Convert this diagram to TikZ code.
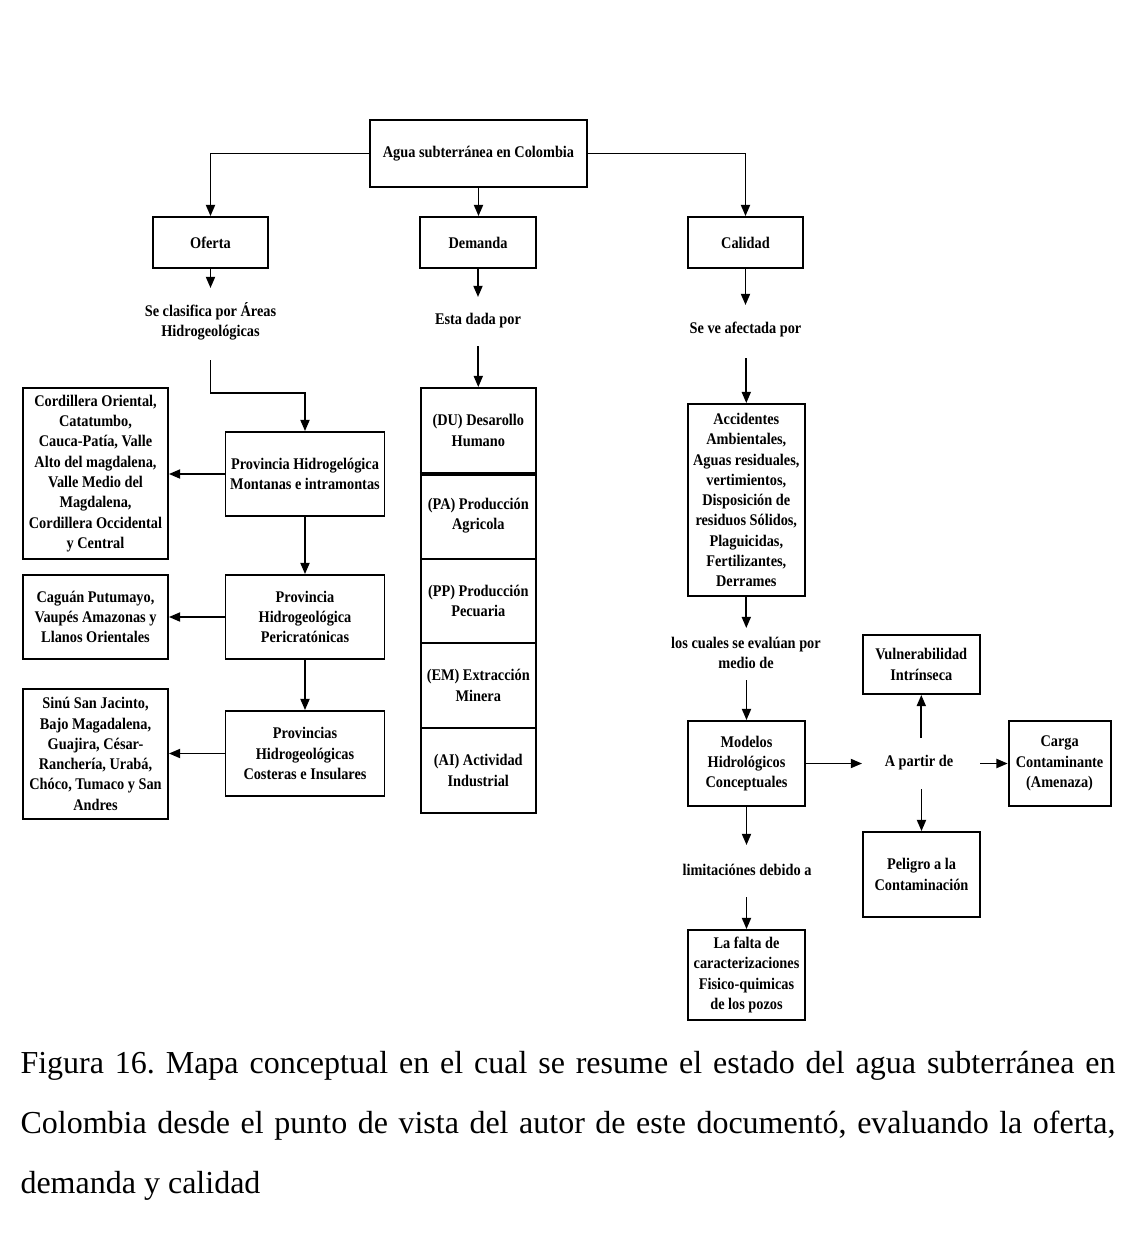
\documentclass[tikz,border=0pt]{standalone}
\usepackage{fontspec}
\setmainfont{Liberation Serif}
\newfontfamily\diagfont{Liberation Serif}[FakeStretch=0.88]
\usetikzlibrary{arrows.meta}
\frenchspacing

% one drawing unit
\newcommand\pxu{0.375pt}

\tikzset{
  box/.style args={#1x#2}{draw, line width=0.7pt, fill=white,
    minimum width=#1*\pxu, minimum height=#2*\pxu, inner sep=0pt,
    align=center, font=\diagfont\bfseries\fontsize{6.1pt}{7.6pt}\selectfont},
  lbl/.style={inner sep=0pt, align=center,
    font=\diagfont\bfseries\fontsize{6.1pt}{7.6pt}\selectfont},
  arr/.style={-{Triangle[length=4.2pt,width=3.4pt]}, line width=0.65pt},
  captxt/.style={anchor=base west, inner sep=0pt, font=\fontsize{12pt}{14pt}\selectfont}
}

\begin{document}
\begin{tikzpicture}[x=0.375pt, y=-0.375pt]
\useasboundingbox (0,0) rectangle (1124,1258);

% top level
\node[box=217x67] (agua) at (478.5,153.5) {Agua subterránea en Colombia};
\node[box=115x51] (oferta) at (210.5,242.5) {Oferta};
\node[box=116x51] (demanda) at (478,242.5) {Demanda};
\node[box=115x51] (calidad) at (745.5,242.5) {Calidad};

\node[lbl] (clasif) at (210.5,321) {Se clasifica por Áreas\\Hidrogeológicas};
\node[lbl] (dada) at (478,321) {Esta dada por};
\node[lbl] (afect) at (745.5,329) {Se ve afectada por};

% oferta branch
\node[box=159x84] (prov1) at (305,474) {Provincia Hidrogelógica\\Montanas e intramontas};
\node[box=145x171] (cord) at (95.5,473.5) {Cordillera Oriental,\\Catatumbo,\\Cauca-Patía, Valle\\Alto del magdalena,\\Valle Medio del\\Magdalena,\\Cordillera Occidental\\y Central};
\node[box=159x84] (prov2) at (305,617) {Provincia\\Hidrogeológica\\Pericratónicas};
\node[box=145x84] (cag) at (95.5,617) {Caguán Putumayo,\\Vaupés Amazonas y\\Llanos Orientales};
\node[box=159x85] (prov3) at (305,753.5) {Provincias\\Hidrogeológicas\\Costeras e Insulares};
\node[box=145x130] (sinu) at (95.5,754) {Sinú San Jacinto,\\Bajo Magadalena,\\Guajira, César-\\Ranchería, Urabá,\\Chóco, Tumaco y San\\Andres};

% demanda stack
\node[box=115x85] (du) at (478.3,430.5) {(DU) Desarollo\\Humano};
\node[box=115x86] (pa) at (478.3,516) {(PA) Producción\\Agricola};
\node[box=115x84] (pp) at (478.3,601) {(PP) Producción\\Pecuaria};
\node[box=115x85] (em) at (478.3,685.5) {(EM) Extracción\\Minera};
\node[box=115x85] (ai) at (478.3,770.5) {(AI) Actividad\\Industrial};
\draw[line width=1.3pt] (du.south west) -- (du.south east);

% calidad branch
\node[box=117x192] (acc) at (746.3,500) {Accidentes\\Ambientales,\\Aguas residuales,\\vertimientos,\\Disposición de\\residuos Sólidos,\\Plaguicidas,\\Fertilizantes,\\Derrames};
\node[lbl] (eval) at (746,653) {los cuales se evalúan por\\medio de};
\node[box=117x59] (vuln) at (921.3,664.5) {Vulnerabilidad\\Intrínseca};
\node[box=117x85] (mod) at (746.5,763.5) {Modelos\\Hidrológicos\\Conceptuales};
\node[lbl] (apartir) at (919,763) {A partir de};
\node[box=102x85] (carga) at (1059.6,763.5) {Carga\\Contaminante\\(Amenaza)};
\node[box=117x85] (pel) at (921.5,874.5) {Peligro a la\\Contaminación};
\node[lbl] (limit) at (747,870) {limitaciónes debido a};
\node[box=117x90] (falta) at (746.5,975) {La falta de\\caracterizaciones\\Fisico-quimicas\\de los pozos};

% free ends of connectors
\coordinate (ofTip) at (210.5,288);
\coordinate (deTip) at (478,297);
\coordinate (caTip) at (745.5,305);
\coordinate (ofTail) at (210.5,360);
\coordinate (ofBend) at (210.5,393);
\coordinate (deTail) at (478.3,346);
\coordinate (caTail) at (746.3,358);
\coordinate (acTip) at (746.3,628);
\coordinate (evTail) at (746.5,680);
\coordinate (moTip) at (862,763.5);
\coordinate (upTail) at (921.3,738);
\coordinate (rtTail) at (980,763.5);
\coordinate (dnTail) at (921.5,789);
\coordinate (mbTip) at (746.5,845);
\coordinate (liTail) at (746.5,897);

% connectors
\draw[arr] (agua.west) -| (oferta.north);
\draw[arr] (agua.east) -| (calidad.north);
\draw[arr] (agua.south) -- (agua.south |- demanda.north);
\draw[arr] (oferta.south) -- (ofTip);
\draw[arr] (demanda.south) -- (deTip);
\draw[arr] (calidad.south) -- (caTip);

\draw[arr] (ofTail) -- (ofBend) -| (prov1.north);
\draw[arr] (prov1.west) -- (prov1.west -| cord.east);
\draw[arr] (prov1.south) -- (prov2.north);
\draw[arr] (prov2.west) -- (prov2.west -| cag.east);
\draw[arr] (prov2.south) -- (prov3.north);
\draw[arr] (prov3.west) -- (prov3.west -| sinu.east);

\draw[arr] (deTail) -- (du.north);

\draw[arr] (caTail) -- (acc.north);
\draw[arr] (acc.south) -- (acTip);
\draw[arr] (evTail) -- (mod.north);
\draw[arr] (mod.east) -- (moTip);
\draw[arr] (upTail) -- (vuln.south);
\draw[arr] (rtTail) -- (carga.west);
\draw[arr] (dnTail) -- (pel.north);
\draw[arr] (mod.south) -- (mbTip);
\draw[arr] (liTail) -- (falta.north);

% caption
\node[captxt] (cap1) at (20,1073) {\makebox[410.6pt][s]{Figura 16. Mapa conceptual en el cual se resume el estado del agua subterránea en}};
\node[captxt] (cap2) at (20,1133) {\makebox[410.6pt][s]{Colombia desde el punto de vista del autor de este documentó, evaluando la oferta,}};
\node[captxt] (cap3) at (20,1193) {demanda y calidad};
\end{tikzpicture}
\end{document}
